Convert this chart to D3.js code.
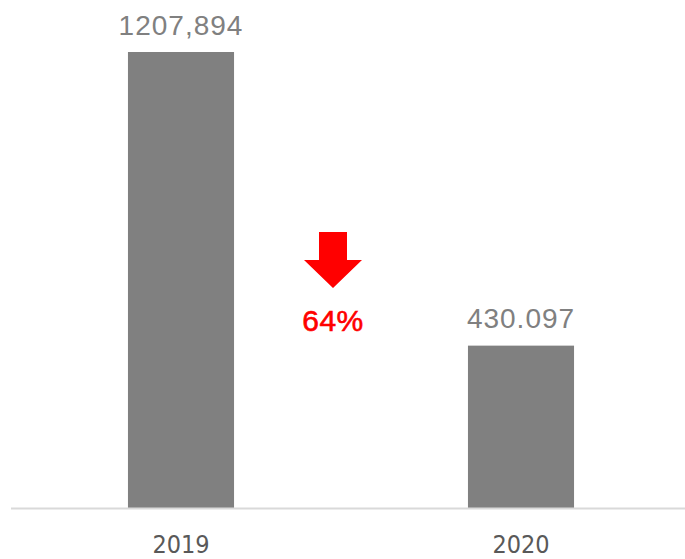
<!DOCTYPE html>
<html>
<head>
<meta charset="utf-8">
<script src="https://cdn.jsdelivr.net/npm/d3@7"></script>
<style>
  body { margin: 0; background: #fff; }
</style>
</head>
<body>
<script>
// data
var years = ["2019", "2020"];
var values = [1207.894, 430.097];
var valueLabels = ["1207,894", "430.097"];
var changeLabel = "64%";

var w = 685, h = 559;
var baseY = 508;

var svg = d3.select("body").append("svg")
    .attr("width", w)
    .attr("height", h);

var x = d3.scaleBand()
    .domain(years)
    .range([11, 691])
    .paddingInner(0.688)
    .paddingOuter(0.344);

var y = d3.scaleLinear()
    .domain([0, 1207.894])
    .range([baseY, 52]);

// bars
svg.selectAll("rect.bar")
    .data(values)
    .enter().append("rect")
    .attr("class", "bar")
    .attr("x", function(d, i) { return x(years[i]); })
    .attr("y", function(d) { return y(d); })
    .attr("width", x.bandwidth())
    .attr("height", function(d) { return baseY - y(d); })
    .style("fill", "#808080");

// axis line
svg.append("line")
    .attr("x1", 11).attr("x2", w)
    .attr("y1", baseY + 0.5).attr("y2", baseY + 0.5)
    .style("stroke", "#d9d9d9")
    .style("stroke-width", 2);

// value labels
svg.selectAll("text.val")
    .data(values)
    .enter().append("text")
    .attr("class", "val")
    .attr("x", function(d, i) { return x(years[i]) + x.bandwidth() / 2; })
    .attr("y", function(d) { return y(d) - 17.5; })
    .attr("text-anchor", "middle")
    .style("font-family", "'Liberation Sans', Arial, sans-serif")
    .style("font-size", "28px")
    .style("letter-spacing", "1px")
    .style("fill", "#808080")
    .text(function(d, i) { return valueLabels[i]; });

// category labels
svg.selectAll("text.cat")
    .data(years)
    .enter().append("text")
    .attr("class", "cat")
    .attr("x", function(d) { return x(d) + x.bandwidth() / 2; })
    .attr("y", 553)
    .attr("text-anchor", "middle")
    .style("font-family", "'Liberation Sans Narrow', 'DejaVu Sans Condensed', sans-serif")
    .style("font-size", "25px")
    .style("fill", "#595959")
    .text(function(d) { return d; });

// down arrow + change
var ax = 333;
var arrow = svg.append("g").attr("transform", "translate(" + ax + ",0)");
arrow.append("path")
    .attr("d", "M-14,232 L14,232 L14,260 L29,260 L0,288 L-29,260 L-14,260 Z")
    .style("fill", "#ff0000");
arrow.append("text")
    .attr("x", 0)
    .attr("y", 331)
    .attr("text-anchor", "middle")
    .style("font-family", "'Liberation Sans', Arial, sans-serif")
    .style("font-size", "30px")
    .style("letter-spacing", "0.5px")
    .style("fill", "#ff0000")
    .style("stroke", "#ff0000")
    .style("stroke-width", 0.6)
    .text(changeLabel);
</script>
</body>
</html>
